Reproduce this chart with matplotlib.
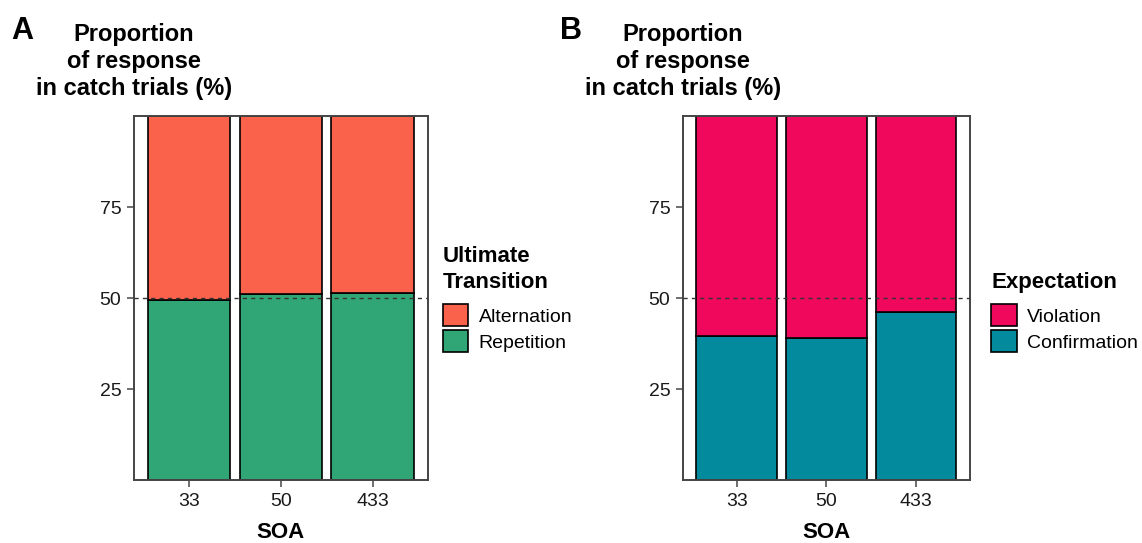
import matplotlib.pyplot as plt
from matplotlib.patches import Patch

plt.rcParams['font.family'] = ['Liberation Sans', 'DejaVu Sans']

soa = ['33', '50', '433']
# panel A: ultimate transition (% of responses)
repetition = [49.6, 51.0, 51.4]
alternation = [100 - v for v in repetition]
# panel B: expectation
confirmation = [39.6, 38.9, 46.1]
violation = [100 - v for v in confirmation]

panels = [
    dict(letter='A', pos=[0.1173, 0.116, 0.2574, 0.670], leg_x=1.05,
         bottom=repetition, top=alternation,
         bottom_col='#30A676', top_col='#FA624C',
         bottom_lab='Repetition', top_lab='Alternation',
         legend_title='Ultimate\nTransition'),
    dict(letter='B', pos=[0.598, 0.116, 0.2513, 0.670], leg_x=1.075,
         bottom=confirmation, top=violation,
         bottom_col='#038A9C', top_col='#F0085D',
         bottom_lab='Confirmation', top_lab='Violation',
         legend_title='Expectation'),
]

fig = plt.figure(figsize=(11.42, 5.43), dpi=100)

for p in panels:
    ax = fig.add_axes(p['pos'])
    x = range(1, len(soa) + 1)
    ax.bar(x, p['bottom'], width=0.9, color=p['bottom_col'],
           edgecolor='black', linewidth=1.2, zorder=2)
    ax.bar(x, p['top'], bottom=p['bottom'], width=0.9, color=p['top_col'],
           edgecolor='black', linewidth=1.2, zorder=2)
    ax.axhline(50, color='#333333', linestyle=(0, (3, 3)), linewidth=1, zorder=3)

    ax.set_xlim(0.4, 3.6)
    ax.set_ylim(0, 100)
    ax.set_xticks(list(x))
    ax.set_xticklabels(soa)
    ax.set_yticks([25, 50, 75])
    ax.tick_params(labelsize=14, length=5, width=1.2, color='#555555',
                   labelcolor='#1a1a1a', pad=4)
    for s in ax.spines.values():
        s.set_color('#444444')
        s.set_linewidth(1.4)
    ax.set_xlabel('SOA', fontsize=16, fontweight='bold', labelpad=9)

    # y label as a block of text above the axis
    ax.text(0, 1.045, 'Proportion\nof response\nin catch trials (%)',
            transform=ax.transAxes, ha='center', va='bottom',
            fontsize=17, fontweight='bold', linespacing=1.22)
    x_fig = p['pos'][0]
    fig.text(x_fig - 0.098, 0.942, p['letter'], fontsize=22, fontweight='bold',
             ha='center', va='center')

    handles = [Patch(facecolor=p['top_col'], edgecolor='black', linewidth=1.2),
               Patch(facecolor=p['bottom_col'], edgecolor='black', linewidth=1.2)]
    leg = ax.legend(handles, [p['top_lab'], p['bottom_lab']],
                    title=p['legend_title'], loc='lower left',
                    bbox_to_anchor=(p['leg_x'], 0.352), frameon=False, fontsize=14,
                    handlelength=1.3, handleheight=1.35, handletextpad=0.55,
                    labelspacing=0.2, borderaxespad=0, borderpad=0)
    leg.get_title().set_fontweight('bold')
    leg.get_title().set_fontsize(16)
    leg.get_title().set_linespacing(1.3)
    leg._legend_box.align = 'left'
    leg._legend_box.sep = 8

fig.savefig('out.png', dpi=100)
